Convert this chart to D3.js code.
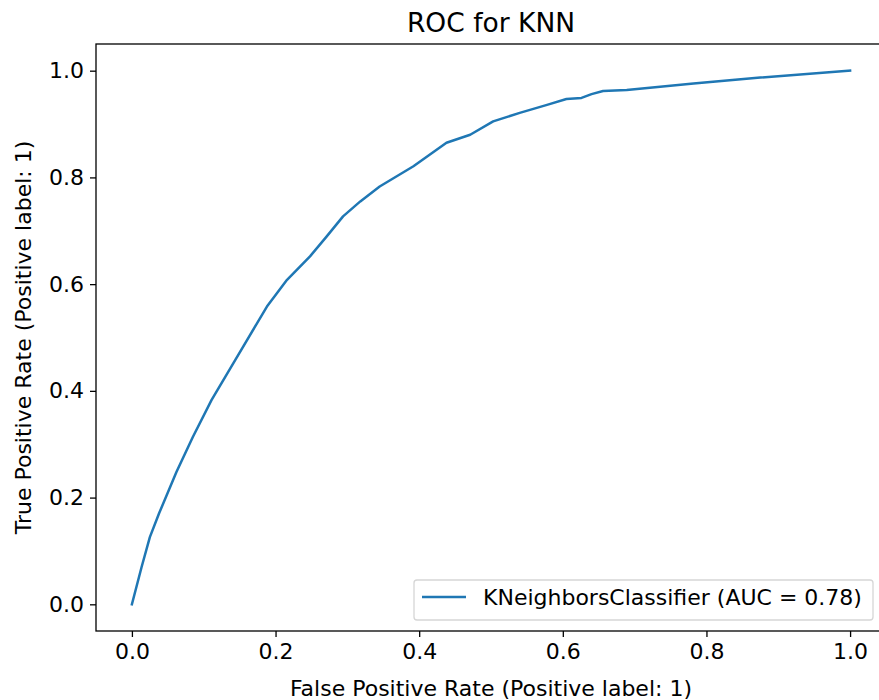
<!DOCTYPE html>
<html>
<head>
<meta charset="utf-8">
<script src="https://cdn.jsdelivr.net/npm/d3@7"></script>
<style>
    body { margin: 0; background: #fff; }
    svg text { font-family: "DejaVu Sans", sans-serif; fill: #000; }
</style>
</head>
<body>
<div id="chart"></div>
<script>
(function () {
    'use strict';

    // ROC curve points
    var fpr = [0, 0.0135, 0.025, 0.038, 0.062, 0.085, 0.111, 0.144, 0.188, 0.216, 0.248,
        0.271, 0.294, 0.318, 0.345, 0.392, 0.438, 0.471, 0.503, 0.540, 0.578,
        0.605, 0.626, 0.640, 0.656, 0.689, 0.782, 0.875, 1.0];
    var tpr = [0, 0.07, 0.126, 0.171, 0.248, 0.314, 0.383, 0.458, 0.558, 0.608, 0.652,
        0.689, 0.727, 0.755, 0.783, 0.821, 0.865, 0.880, 0.905, 0.921, 0.936,
        0.947, 0.949, 0.956, 0.962, 0.964, 0.976, 0.987, 1.0];
    var xTicks = [0, 0.2, 0.4, 0.6, 0.8, 1.0];
    var yTicks = [0, 0.2, 0.4, 0.6, 0.8, 1.0];
    var seriesLabel = 'KNeighborsClassifier (AUC = 0.78)';

    var width = 879, height = 700;
    var left = 96, right = 886, top = 44, bottom = 631;
    var blue = '#1f77b4';
    var fontSize = '22px';

    var svg = d3.select('#chart').append('svg')
        .attr('width', width)
        .attr('height', height);

    var x = d3.scaleLinear().domain([-0.05, 1.05]).range([left, right]);
    var y = d3.scaleLinear().domain([-0.05, 1.05]).range([bottom, top]);

    //axes
    var xAxis = svg.append('g')
        .attr('transform', 'translate(0,' + bottom + ')')
        .call(d3.axisBottom(x).tickValues(xTicks).tickSize(6).tickPadding(6)
            .tickFormat(d3.format('.1f')));
    var yAxis = svg.append('g')
        .attr('transform', 'translate(' + left + ',0)')
        .call(d3.axisLeft(y).tickValues(yTicks).tickSize(6).tickPadding(6)
            .tickFormat(d3.format('.1f')));

    [xAxis, yAxis].forEach(function (a) {
        a.select('.domain').remove();
        a.selectAll('.tick line').attr('stroke', '#000').attr('stroke-width', 1.3);
        a.selectAll('.tick text')
            .style('font-size', fontSize)
            .style('font-family', '"DejaVu Sans", sans-serif');
    });

    //the curve
    var points = fpr.map(function (d, i) { return [d, tpr[i]]; });
    var line = d3.line()
        .x(function (d) { return x(d[0]); })
        .y(function (d) { return y(d[1]); });

    svg.append('path')
        .datum(points)
        .attr('d', line)
        .attr('fill', 'none')
        .attr('stroke', blue)
        .attr('stroke-width', 2.5)
        .attr('stroke-linejoin', 'round')
        .attr('stroke-linecap', 'square');

    //frame
    svg.append('rect')
        .attr('x', left)
        .attr('y', top)
        .attr('width', right - left)
        .attr('height', bottom - top)
        .attr('fill', 'none')
        .attr('stroke', '#000')
        .attr('stroke-width', 1.3);

    //title and labels
    svg.append('text')
        .attr('x', (left + right) / 2)
        .attr('y', 32)
        .attr('text-anchor', 'middle')
        .style('font-size', '26.5px')
        .text('ROC for KNN');

    svg.append('text')
        .attr('x', (left + right) / 2)
        .attr('y', 696)
        .attr('text-anchor', 'middle')
        .style('font-size', fontSize)
        .text('False Positive Rate (Positive label: 1)');

    svg.append('text')
        .attr('transform', 'translate(31,' + ((top + bottom) / 2) + ') rotate(-90)')
        .attr('text-anchor', 'middle')
        .style('font-size', fontSize)
        .text('True Positive Rate (Positive label: 1)');

    //legend
    var legend = svg.append('g');
    legend.append('rect')
        .attr('x', 414)
        .attr('y', 580)
        .attr('width', 459)
        .attr('height', 40)
        .attr('rx', 3)
        .attr('fill', '#fff')
        .attr('fill-opacity', 0.8)
        .attr('stroke', '#d6d6d6')
        .attr('stroke-width', 1.3);
    legend.append('line')
        .attr('x1', 422)
        .attr('x2', 466)
        .attr('y1', 597)
        .attr('y2', 597)
        .attr('stroke', blue)
        .attr('stroke-width', 2.5);
    legend.append('text')
        .attr('x', 483)
        .attr('y', 605)
        .style('font-size', fontSize)
        .text(seriesLabel);
})();
</script>
</body>
</html>
